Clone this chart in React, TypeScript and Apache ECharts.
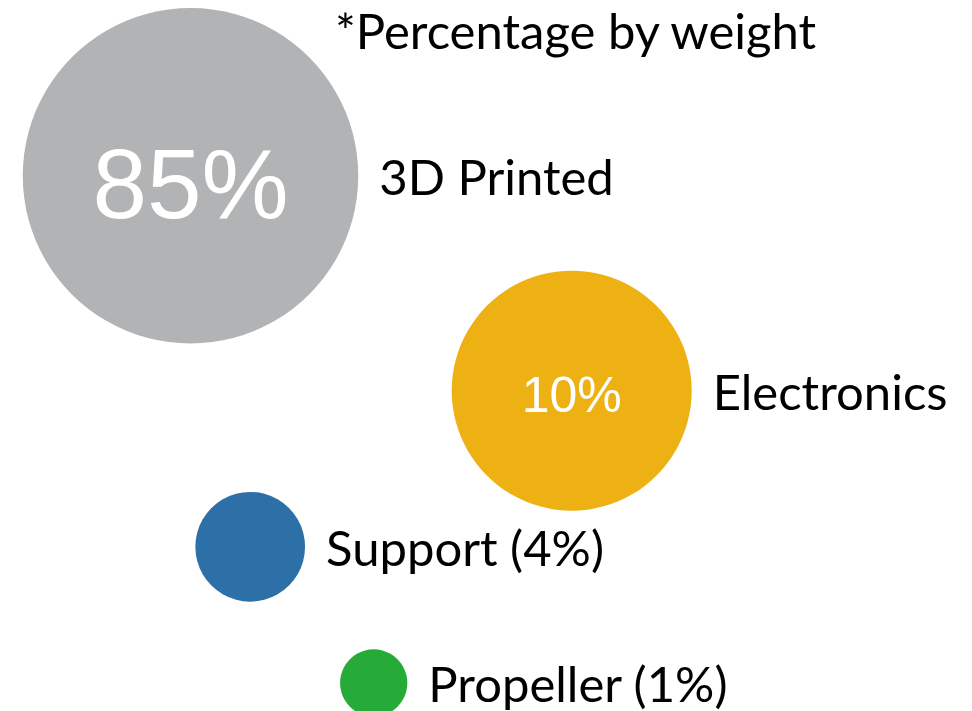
import React, { useEffect, useRef } from "react";
import * as echarts from "echarts";

// ---- Data ----
const categories = ["3D Printed", "Electronics", "Support", "Propeller"];
const percentages = [85, 10, 4, 1];
const xValues = [1.905, 5.717, 2.502, 3.737];
const yValues = [5.352, 3.203, 1.642, 0.28];
const bubbleValues = [33.55, 24.0, 10.97, 6.73];
const footnote = "*Percentage by weight";

// ---- Styles ----
const colors = ["#B2B3B5", "#EEB113", "#2D70A7", "#26AB38"];
const SIZE_SCALE = 10;
const LABEL_FONT = "Lato";
const LABEL_SIZE = 49;
const INNER_FONT = "'Liberation Sans', Arial, sans-serif";
const innerFontSizes = [98, 50, 0, 0];
const innerOffsets = [
  [0, 8],
  [0, 4],
  [0, 0],
  [0, 0],
];

export default function App() {
  const ref = useRef<HTMLDivElement>(null);

  useEffect(() => {
    if (!ref.current) return;
    const chart = echarts.init(ref.current, null, { renderer: "svg" });

    const points = categories.map((name, i) => ({
      name,
      value: [xValues[i], yValues[i], bubbleValues[i], percentages[i]],
    }));

    const option: any = {
      animation: false,
      backgroundColor: "#ffffff",
      grid: { left: 0, right: 0, top: 0, bottom: 0 },
      xAxis: { type: "value", min: 0, max: 9.72, show: false },
      yAxis: { type: "value", min: 0, max: 7.11, show: false },
      graphic: [
        {
          type: "text",
          x: 335,
          y: 30,
          style: {
            text: footnote,
            fontFamily: LABEL_FONT,
            fontSize: LABEL_SIZE,
            fill: "#000000",
            textVerticalAlign: "middle",
          },
        },
      ],
      series: [
        {
          type: "scatter",
          silent: true,
          symbol: "circle",
          symbolSize: (val: number[]) => val[2] * SIZE_SCALE,
          data: points.map((p, i) => ({
            ...p,
            itemStyle: { color: colors[i], opacity: 1 },
          })),
          label: {
            show: true,
            position: "right",
            distance: 21,
            color: "#000000",
            fontFamily: LABEL_FONT,
            fontSize: LABEL_SIZE,
            formatter: (p: any) =>
              p.value[3] >= 10 ? p.name : `${p.name} (${p.value[3]}%)`,
          },
          emphasis: { disabled: true },
        },
        {
          type: "scatter",
          silent: true,
          symbol: "circle",
          symbolSize: (val: number[]) => val[2] * SIZE_SCALE,
          data: points.map((p, i) => ({
            ...p,
            itemStyle: { color: "rgba(0,0,0,0)", opacity: 1 },
            label: {
              show: p.value[3] >= 10,
              fontSize: innerFontSizes[i] || 12,
              offset: innerOffsets[i],
            },
          })),
          label: {
            show: true,
            position: "inside",
            color: "#ffffff",
            opacity: 1,
            fontFamily: INNER_FONT,
            formatter: (p: any) => `${p.value[3]}%`,
          },
          emphasis: { disabled: true },
        },
      ],
    };

    chart.setOption(option);
    return () => chart.dispose();
  }, []);

  return (
    <div
      ref={ref}
      style={{ position: "fixed", left: 0, top: 0, width: 972, height: 711 }}
    />
  );
}
